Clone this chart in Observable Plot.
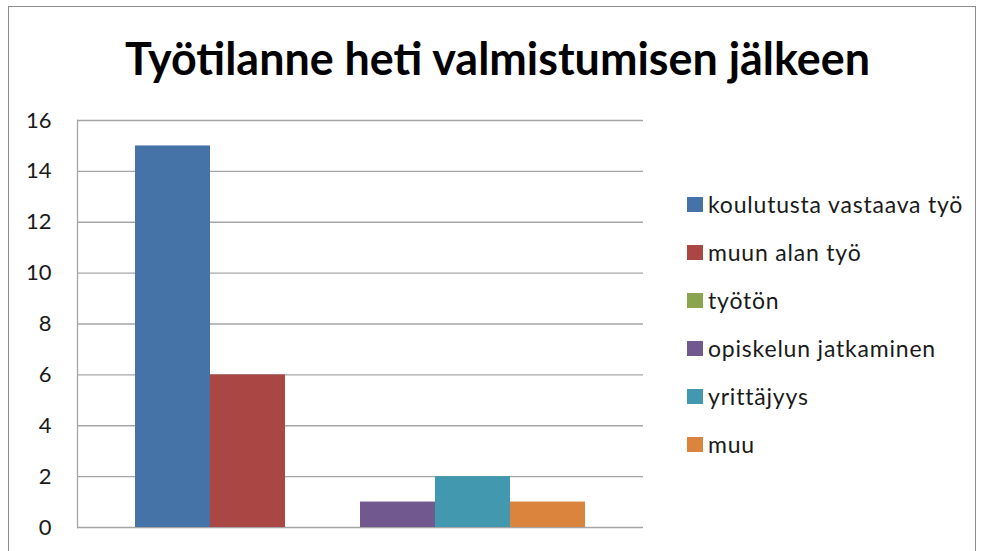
<!DOCTYPE html>
<html>
<head>
<meta charset="utf-8">
<script src="https://cdn.jsdelivr.net/npm/d3@7"></script>
<script src="https://cdn.jsdelivr.net/npm/@observablehq/plot@0.6"></script>
<style>
  html, body { margin: 0; padding: 0; background: #fff; }
  #wrap { position: relative; width: 981px; height: 551px; overflow: hidden; font-family: Lato, "Open Sans", sans-serif; }
  #border { position: absolute; left: 8px; top: 6px; width: 968px; height: 600px; border: 1.5px solid #8c8c8c; box-sizing: border-box; }
  #chart { position: absolute; left: 0; top: 0; }
  #title { position: absolute; left: 0; top: 0; }
  #legend { position: absolute; left: 687px; top: 180px; }
  .item { display: flex; align-items: center; height: 48px; font-size: 23px; letter-spacing: 0.8px; color: #1a1a1a; white-space: nowrap; }
  .sw { width: 16px; height: 15px; margin-right: 5px; flex: none; }
</style>
</head>
<body>
<div id="wrap">
  <div id="border"></div>
  <div id="chart"></div>
  <svg id="title" width="981" height="110"></svg>
  <div id="legend"></div>
</div>
<script>
const titleText = "Työtilanne heti valmistumisen jälkeen";
const categories = ["koulutusta vastaava työ", "muun alan työ", "työtön", "opiskelun jatkaminen", "yrittäjyys", "muu"];
const values = [15, 6, 0, 1, 2, 1];
const colors = ["#4572A7", "#AA4643", "#89A54E", "#71588F", "#4198AF", "#DB843D"];
const yTicks = [0, 2, 4, 6, 8, 10, 12, 14, 16];

const data = categories.map((c, i) => ({category: c, value: values[i]}));

const chart = Plot.plot({
  width: 981,
  height: 551,
  marginLeft: 77,
  marginRight: 338,
  marginTop: 120,
  marginBottom: 24,
  style: {fontFamily: "Lato, 'Open Sans', sans-serif", background: "transparent"},
  x: {domain: categories, paddingInner: 0, paddingOuter: 0.75, axis: null},
  y: {domain: [0, 16], ticks: yTicks},
  color: {domain: categories, range: colors},
  marks: [
    Plot.ruleY(yTicks, {stroke: "#a6a6a6", strokeWidth: 1.3}),
    Plot.frame({anchor: "left", stroke: "#a6a6a6", strokeWidth: 1.3}),
    Plot.barY(data, {x: "category", y: "value", fill: "category"}),
    Plot.axisY({ticks: yTicks, tickSize: 0, tickPadding: 26, fontSize: 22, fill: "#1a1a1a", label: null})
  ]
});
document.getElementById("chart").appendChild(chart);

d3.select("#title").append("text")
  .attr("x", 125).attr("y", 75)
  .attr("textLength", 745).attr("lengthAdjust", "spacingAndGlyphs")
  .attr("font-family", "Lato, 'Open Sans', sans-serif")
  .attr("font-weight", "bold").attr("font-size", 46).attr("fill", "#000")
  .text(titleText);

const legend = d3.select("#legend");
categories.forEach((c, i) => {
  const it = legend.append("div").attr("class", "item");
  it.append("div").attr("class", "sw").style("background", colors[i]);
  it.append("span").text(c);
});
</script>
</body>
</html>
